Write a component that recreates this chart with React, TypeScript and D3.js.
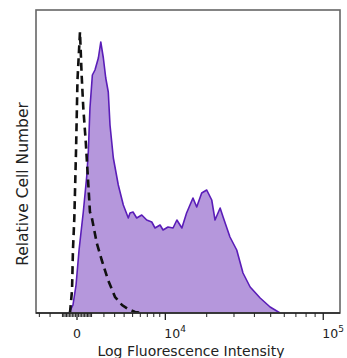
import * as d3 from 'd3';

// fluorescence intensity (x) and relative count (y)
const stainedIntensity = [-530, -260, -60, 130, 260, 410, 650, 760, 880, 1060, 1260, 1530, 1730, 1950, 2160, 2390, 2550, 2870, 3370, 3910, 4480, 4680, 5050, 5520, 6200, 6910, 7680, 8200, 9050, 9580, 10500, 11500, 12300, 13400, 14500, 16100, 17100, 18500, 20000, 21600, 22700, 24500, 25600, 28300, 31200, 34100, 37700, 43300, 49600, 56700];
const stainedCount = [0, 8, 28, 63, 81, 101, 137, 161, 205, 238, 243, 255, 271, 255, 235, 221, 188, 155, 128, 108, 95, 100, 101, 95, 98, 93, 91, 85, 88, 83, 86, 85, 93, 85, 100, 115, 106, 120, 123, 113, 93, 105, 96, 76, 63, 40, 26, 15, 6, 0];

const controlIntensity = [-460, -320, -260, -170, -60, 30, 190, 300, 410, 580, 720, 880, 1010, 1400, 1810, 2370, 3040, 3770, 4450, 5300, 6200];
const controlCount = [0, 23, 63, 95, 163, 233, 281, 238, 205, 171, 138, 101, 96, 70, 53, 33, 16, 8, 4, 1, 0];

const majorTicks = [0, 10000, 100000];
const majorLabels = ['0', '10|4', '10|5'];
const minorTicks = [
    -3000, -2000, -1000, -900, -800, -700, -600, -500, -400, -300, -200, -100,
    100, 200, 300, 400, 500, 600, 700, 800, 900, 1000,
    2000, 3000, 4000, 5000, 6000, 7000, 8000, 9000,
    20000, 30000, 40000, 50000, 60000, 70000, 80000, 90000
];

const W = 347;
const H = 358;
const left = 36;
const right = 340;
const top = 10;
const bottom = 313;

const App = () => {
    const x = d3.scaleSymlog()
        .constant(5100)
        .domain([-3340, 124000])
        .range([left, right]);

    const y = d3.scaleLinear()
        .domain([0, 303])
        .range([bottom, top]);

    const stained = stainedIntensity.map((v, i) => ({ v, c: stainedCount[i] }));
    const control = controlIntensity.map((v, i) => ({ v, c: controlCount[i] }));

    const area = d3.area<{ v: number; c: number }>()
        .x(d => x(d.v))
        .y0(y(0))
        .y1(d => y(d.c));

    const line = d3.line<{ v: number; c: number }>()
        .x(d => x(d.v))
        .y(d => y(d.c));

    const font = '"DejaVu Sans", Verdana, sans-serif';

    return (
        <svg width={W} height={H} style={{ position: 'absolute', left: 0, top: 0, background: '#fff' }}>
            <defs>
                <clipPath id="plot">
                    <rect x={left} y={top} width={right - left} height={bottom - top} />
                </clipPath>
            </defs>

            <g clipPath="url(#plot)">
                <path d={area(stained) || ''} fill="#b597dc" />
                <path d={line(stained) || ''} fill="none" stroke="#5a1db8" strokeWidth={1.6} strokeLinejoin="round" />
                <path d={line(control) || ''} fill="none" stroke="#111" strokeWidth={2.6} strokeDasharray="8,5" />
            </g>

            {/* frame */}
            <rect x={left} y={top} width={right - left} height={bottom - top} fill="none" stroke="#666" strokeWidth={1.6} />
            <line x1={left} x2={right} y1={bottom} y2={bottom} stroke="#222" strokeWidth={1.5} />

            {/* ticks */}
            {minorTicks.map(t => (
                <line key={'m' + t} x1={x(t)} x2={x(t)} y1={bottom} y2={bottom + 4} stroke="#222" strokeWidth={1} />
            ))}
            {majorTicks.map(t => (
                <line key={'M' + t} x1={x(t)} x2={x(t)} y1={bottom} y2={bottom + 7} stroke="#222" strokeWidth={1.3} />
            ))}
            {majorTicks.map((t, i) => {
                const [base, exp] = majorLabels[i].split('|');
                if (!exp) {
                    return (
                        <text key={'l' + t} x={x(t)} y={338} textAnchor="middle" fontFamily={font} fontSize={12.5} fill="#222">{base}</text>
                    );
                }
                return (
                    <text key={'l' + t} x={x(t) - 1} y={338} textAnchor="start" fontFamily={font} fontSize={12.5} fill="#222">
                        {base}
                        <tspan fontSize={9} dy={-6}>{exp}</tspan>
                    </text>
                );
            })}

            <text x={191} y={356} textAnchor="middle" fontFamily={font} fontSize={14} fill="#222">Log Fluorescence Intensity</text>
            <text transform={`translate(28,${184}) rotate(-90)`} textAnchor="middle" fontFamily={font} fontSize={15.5} fill="#222">Relative Cell Number</text>
        </svg>
    );
};

export default App;
